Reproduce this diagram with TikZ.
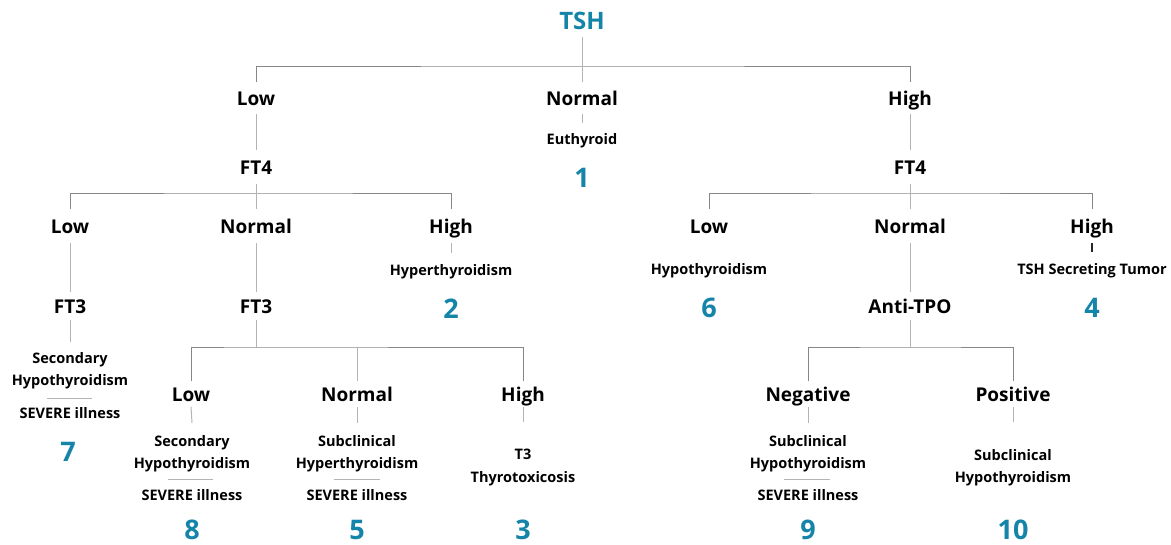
\documentclass[tikz,border=0pt]{standalone}
\usepackage{fontspec}
\setmainfont{Open Sans}
\definecolor{tealnum}{RGB}{20,132,168}
\definecolor{barc}{RGB}{135,135,135}
\definecolor{stemc}{RGB}{180,180,180}
\begin{document}
\begin{tikzpicture}[x=1pt,y=-1pt,
  lab/.style={font=\bfseries\fontsize{19}{24}\selectfont, inner sep=0pt, text height=18pt, text depth=4pt},
  sm/.style={font=\bfseries\fontsize{14.5}{22.5}\selectfont, inner sep=0pt, align=center},
  num/.style={font=\bfseries\fontsize{27}{30}\selectfont, text=tealnum, inner sep=0pt, text height=20pt, text depth=0pt},
  bar/.style={draw=barc, line width=1pt},
  stem/.style={draw=stemc, line width=1pt},
  darkstem/.style={draw=black!85, line width=1.8pt},
  rulestyle/.style={draw=stemc, line width=0.9pt}]
\useasboundingbox (0,0) rectangle (1171,544);
% level 0
\node[lab, font=\bfseries\fontsize{24}{28}\selectfont, text=tealnum, text height=18pt, text depth=0pt, minimum height=34pt] (tsh) at (582,20) {TSH};
% level 1
\node[lab, minimum height=32pt] (low1) at (256,98) {Low};
\node[lab, minimum height=32pt] (nor1) at (582,98) {Normal};
\node[lab, minimum height=32pt] (hi1) at (910,98) {High};
\coordinate (b1) at (582,66);
\node[sm, minimum height=36pt] (eu) at (582,141) {Euthyroid};
\node[num] (n1) at (582,177) {1};
% FT4
\node[lab, minimum height=33pt] (ft4a) at (256,167) {FT4};
\node[lab, minimum height=33pt] (ft4b) at (910,167) {FT4};
\coordinate (b2) at (256,193);
\coordinate (b4) at (910,193);
% level 226
\node[lab, minimum height=34pt] (lo2) at (70,226) {Low};
\node[lab, minimum height=34pt] (no2) at (256,226) {Normal};
\node[lab, minimum height=34pt] (hi2) at (451,226) {High};
\node[lab, minimum height=34pt] (lo4) at (709,226) {Low};
\node[lab, minimum height=34pt] (no4) at (910,226) {Normal};
\node[lab, minimum height=34pt] (hi4) at (1092,226) {High};
% results at 271
\node[sm, minimum height=38pt] (hyper) at (451,272) {Hyperthyroidism};
\node[num] (n2) at (451,308) {2};
\node[sm] (hypo) at (709,271) {Hypothyroidism};
\node[num] (n6) at (709,307) {6};
\node[sm, minimum height=38pt] (tumor) at (1092,271) {TSH Secreting Tumor};
\node[num] (n4) at (1092,307) {4};
% FT3 level
\node[lab, minimum height=28pt] (ft3a) at (70,306) {FT3};
\node[lab, minimum height=28pt] (ft3b) at (256,306) {FT3};
\node[lab, minimum height=28pt] (atpo) at (910,306) {Anti-TPO};
\coordinate (b3) at (256,347);
\coordinate (b5) at (910,347);
% left branch result 7
\node[sm, minimum height=57pt] (sec7) at (70,370.5) {Secondary\\Hypothyroidism};
\node[sm] (sev7) at (70,413) {SEVERE illness};
\node[num] (n7) at (68,451) {7};
% level 393
\node[lab, minimum height=25pt] (lo3) at (191,394) {Low};
\node[lab, minimum height=25pt] (no3) at (357,394) {Normal};
\node[lab, minimum height=25pt] (hi3) at (523,394) {High};
\node[lab, minimum height=25pt] (neg) at (808,394) {Negative};
\node[lab, minimum height=25pt] (pos) at (1013,394) {Positive};
% bottom results
\node[sm, minimum height=61pt] (sec8) at (192,453.5) {Secondary\\Hypothyroidism};
\node[sm] (sev8) at (192,495) {SEVERE illness};
\node[num] (n8) at (192,529) {8};
\node[sm, minimum height=61pt] (sub5) at (357,453.5) {Subclinical\\Hyperthyroidism};
\node[sm] (sev5) at (357,495) {SEVERE illness};
\node[num] (n5) at (357,529) {5};
\node[sm, minimum height=90pt] (t3) at (523,467.5) {T3\\Thyrotoxicosis};
\node[num] (n3) at (523,529) {3};
\node[sm, minimum height=61pt] (sub9) at (808,453.5) {Subclinical\\Hypothyroidism};
\node[sm] (sev9) at (808,495) {SEVERE illness};
\node[num] (n9) at (808,529) {9};
\node[sm, minimum height=90pt] (sub10) at (1013,467.5) {Subclinical\\Hypothyroidism};
\node[num] (n10) at (1013,529) {10};
% bars
\draw[bar] (low1.north) |- (b1) -| (hi1.north);
\draw[bar] (lo2.north) |- (b2) -| (hi2.north);
\draw[bar] (lo4.north) |- (b4) -| (hi4.north);
\draw[bar] (lo3.north) |- (b3) -| (hi3.north);
\draw[bar] (neg.north) |- (b5) -| (pos.north);
% stems
\draw[stem] (tsh.south) -- (nor1.north);
\draw[stem] (low1.south) -- (ft4a.north);
\draw[stem] (nor1.south) -- (eu.north);
\draw[stem] (hi1.south) -- (ft4b.north);
\draw[stem] (ft4a.south) -- (no2.north);
\draw[stem] (ft4b.south) -- (no4.north);
\draw[stem] (lo2.south) -- (ft3a.north);
\draw[stem] (no2.south) -- (ft3b.north);
\draw[stem] (hi2.south) -- (hyper.north);
\draw[darkstem] (hi4.south) -- (tumor.north);
\draw[stem] (no4.south) -- (atpo.north);
\draw[stem] (ft3a.south) -- (sec7.north);
\draw[stem] (ft3b.south) -- (b3);
\draw[stem] (no3.north) -- (no3.north |- b3);
\draw[stem] (atpo.south) -- (b5);
\draw[stem] (lo3.south) -- (sec8.north);
\draw[stem] (no3.south) -- (sub5.north);
\draw[stem] (hi3.south) -- (t3.north);
\draw[stem] (neg.south) -- (sub9.north);
\draw[stem] (pos.south) -- (sub10.north);
% divider rules
\draw[rulestyle] (47,398) -- (92,398);
\draw[rulestyle] (168,479) -- (213,479);
\draw[rulestyle] (334,479) -- (380,479);
\draw[rulestyle] (784,479) -- (830,479);
\end{tikzpicture}
\end{document}
